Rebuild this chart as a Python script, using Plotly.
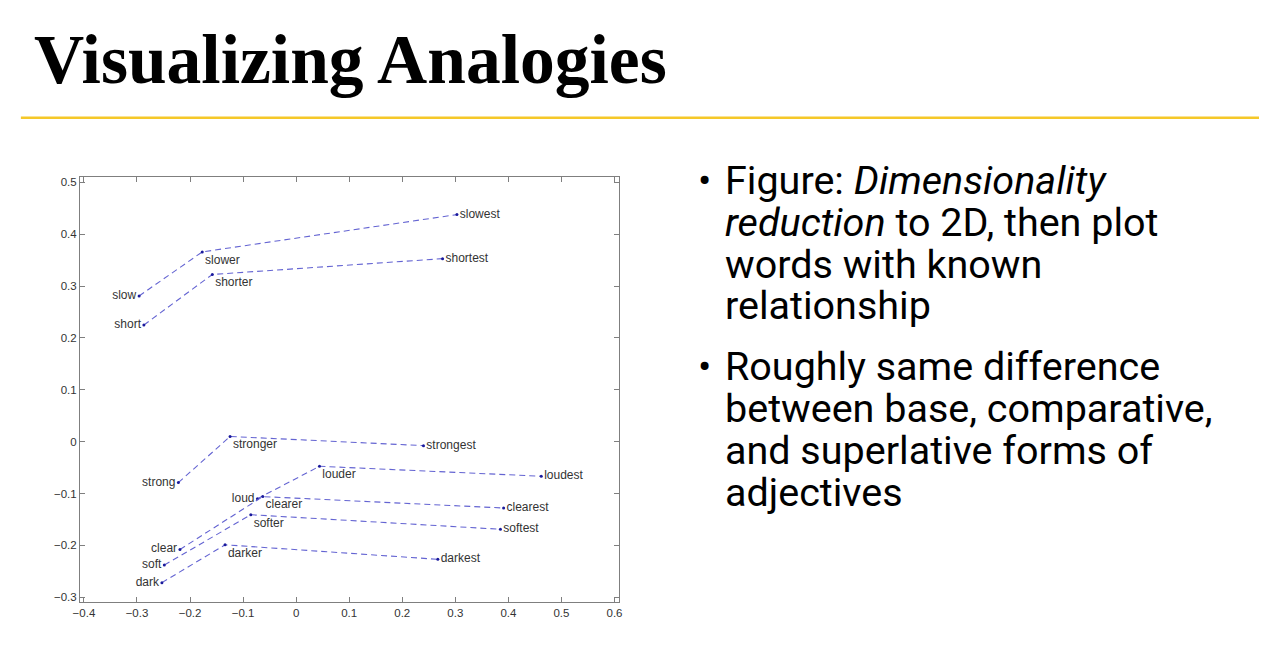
import plotly.graph_objects as go

# ---- data ----
base_words = ["slow", "short", "strong", "loud", "clear", "soft", "dark"]
comp_words = ["slower", "shorter", "stronger", "louder", "clearer", "softer", "darker"]
sup_words = ["slowest", "shortest", "strongest", "loudest", "clearest", "softest", "darkest"]

base_x = [-0.296, -0.287, -0.222, -0.073, -0.219, -0.2485, -0.253]
base_y = [0.281, 0.225, -0.079, -0.110, -0.208, -0.238, -0.272]
comp_x = [-0.177, -0.158, -0.1245, 0.044, -0.063, -0.0855, -0.134]
comp_y = [0.366, 0.3225, 0.010, -0.0475, -0.106, -0.141, -0.199]
sup_x = [0.303, 0.276, 0.240, 0.462, 0.391, 0.385, 0.267]
sup_y = [0.438, 0.353, -0.0077, -0.0667, -0.128, -0.169, -0.227]

x_ticks = [-0.4, -0.3, -0.2, -0.1, 0, 0.1, 0.2, 0.3, 0.4, 0.5, 0.6]
y_ticks = [-0.3, -0.2, -0.1, 0, 0.1, 0.2, 0.3, 0.4, 0.5]

title_text = "Visualizing Analogies"
bullet1_lines = ["Figure: <i>Dimensionality</i>", "<i>reduction</i> to 2D, then plot",
                 "words with known", "relationship"]
bullet2_lines = ["Roughly same difference", "between base, comparative,",
                 "and superlative forms of", "adjectives"]

# page geometry: the page body has an 8px margin, so the figure is sized to fit
OFF = 8
W, H = 1267 - 2 * OFF, 640


def px(S):
    # screen x -> paper fraction (includes measured horizontal correction)
    X = (S - 7.2) / 0.991
    return (X - OFF) / W


def py(Y):
    return 1 - (Y - OFF) / H


LINE_COLOR = "#6464d2"
DOT_COLOR = "#1a1a9c"
LABEL_FONT = dict(family="Liberation Sans, Arial, sans-serif", size=12, color="#333333")

fig = go.Figure()
for i in range(len(base_words)):
    fig.add_trace(go.Scatter(
        x=[base_x[i], comp_x[i], sup_x[i]],
        y=[base_y[i], comp_y[i], sup_y[i]],
        mode="lines+markers+text",
        line=dict(color=LINE_COLOR, width=1.1, dash="6px,4px"),
        marker=dict(color=DOT_COLOR, size=3),
        text=[base_words[i], comp_words[i], sup_words[i]],
        textposition=["middle left", "bottom right", "middle right"],
        textfont=LABEL_FONT,
        hoverinfo="skip",
        cliponaxis=False,
    ))

axis_common = dict(
    showgrid=False, zeroline=False, showline=True, linecolor="#7f7f7f", linewidth=1,
    mirror="ticks", ticks="inside", ticklen=5, tickcolor="#7f7f7f", tickwidth=1,
    tickfont=dict(family="Liberation Sans, Arial, sans-serif", size=11.5, color="#333333"),
)

fig.update_layout(
    width=W, height=H,
    margin=dict(l=0, r=0, t=0, b=0),
    paper_bgcolor="white", plot_bgcolor="white",
    showlegend=False,
    xaxis=dict(domain=[px(80), px(619)], range=[-0.4075, 0.6094], tickvals=x_ticks, **axis_common),
    yaxis=dict(domain=[py(603), py(177)], range=[-0.3096, 0.5096], tickvals=y_ticks, **axis_common),
)

# title and underline (title baseline ~86px)
TITLE_FS = 69.5
fig.add_annotation(text="<b>" + title_text + "</b>", xref="paper", yref="paper",
                   x=px(32), y=py(86.5 - 0.99 * TITLE_FS), xanchor="left", yanchor="top", showarrow=False,
                   font=dict(family="Liberation Serif, serif", size=TITLE_FS, color="black"))
fig.add_shape(type="line", xref="paper", yref="paper", x0=px(21), x1=px(1259),
              y0=py(117), y1=py(117), line=dict(color="#F5C829", width=2.5))

# bullets: one annotation per line for exact line pitch
FS = 39.5
TEXT_FONT = dict(family="Roboto, sans-serif", size=FS, color="black")
PITCH = 42
for first_base, lines in [(195, bullet1_lines), (382, bullet2_lines)]:
    fig.add_annotation(text="•", xref="paper", yref="paper", x=px(695), y=py(first_base - 1.03 * FS),
                       xanchor="left", yanchor="top", showarrow=False, font=TEXT_FONT)
    for k, line in enumerate(lines):
        base = first_base + k * PITCH
        fig.add_annotation(text=line, xref="paper", yref="paper", x=px(722), y=py(base - 1.03 * FS),
                           xanchor="left", yanchor="top", align="left", showarrow=False, font=TEXT_FONT)

fig.write_html("out.html")
